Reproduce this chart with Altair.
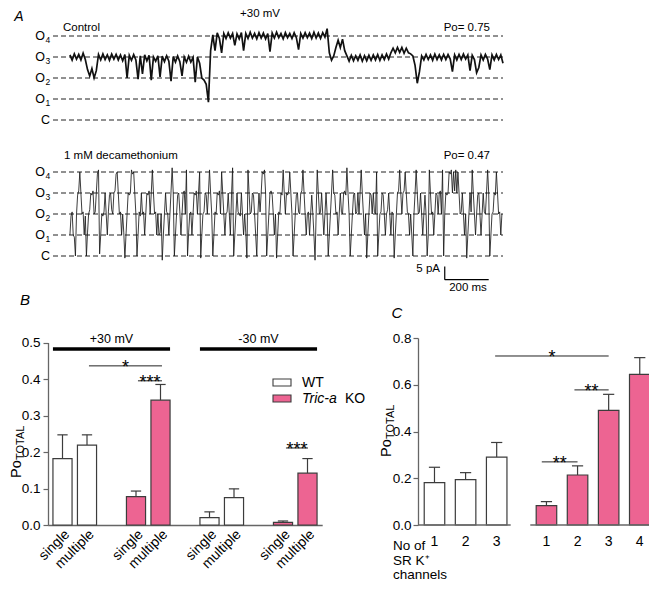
import altair as alt
import pandas as pd

# ---------------- data ----------------
# Panel A, upper record (control): conductance level (0 = C, 1..4 = O1..O4), one value per 10 ms
control_levels = [
    3.1, 2.85, 3.15, 2.9, 3.12, 2.86, 3.18, 2.88,
    2.4, 2.1, 2.45, 2.0, 2.35,
    3.12, 2.86, 3.15, 2.88, 3.1, 2.84, 3.14, 2.9,
    3.12, 2.86, 3.1, 2.82, 3.12, 2.0, 3.08, 2.84, 3.12, 2.86,
    1.95, 3.06, 2.2, 3.1, 2.82, 3.08, 1.9, 3.0, 2.8, 3.06,
    2.05, 3.04, 2.78, 3.06, 2.8, 1.85, 3.02, 2.76, 3.05, 2.78,
    2.1, 3.0, 2.75, 3.04, 2.76, 2.98, 1.8, 3.0, 2.7, 2.0,
    1.9, 1.7, 0.85, 3.3, 4.05,
    3.3, 4.15, 3.88, 3.2, 4.12, 3.88, 4.15, 3.9, 4.12, 3.55,
    4.1, 3.86, 4.16, 3.3, 4.12, 3.88, 4.18, 3.9, 4.12, 3.86,
    4.16, 3.9, 4.14, 3.86, 4.12, 3.25, 4.14, 3.9, 4.18, 3.92,
    4.12, 3.86, 4.16, 3.92, 4.12, 3.88, 4.16, 3.92, 3.35, 4.12,
    3.9, 4.16, 3.92, 4.14, 3.88, 4.18, 3.9, 4.14, 3.88, 4.16, 3.95,
    4.35, 3.2, 2.85, 3.05, 3.45, 3.8, 3.45, 3.85, 3.3, 3.05,
    2.8, 3.08, 2.82, 3.06, 2.84, 3.1, 2.8, 3.06, 2.82, 3.08, 2.84, 3.1, 2.86, 3.12, 2.84, 3.1, 2.88, 3.14, 2.9,
    3.2, 3.42, 3.2, 3.46, 3.22, 3.45, 3.18, 3.42, 3.2, 3.15,
    3.05, 2.6, 1.75, 2.3,
    3.05, 2.86, 3.12, 2.88, 3.1, 2.84, 3.14, 2.88, 3.1, 2.86, 3.12,
    2.88, 3.12, 2.9, 2.3, 3.1, 2.86, 3.12, 2.88, 3.14, 2.9,
    3.1, 2.35, 3.08, 2.88, 2.25, 2.5, 3.1, 2.86, 3.12, 2.9,
    2.4, 3.1, 2.86, 3.12, 2.88, 3.1, 2.7,
]
control_ms = 10
# Panel A, lower record (1 mM decamethonium): one value per 5 ms
deca_levels = [
    1.0, 1.9, 2.1, 1.0, 0.9, 0.0, 2.0, 2.9, 3.1, 4.0, 3.0, 2.0, 2.1, 1.0, 1.9, 0.0, 1.1, 2.0, 2.2, 3.0,
    2.9, 3.1, 2.0, 2.1, 3.0, 3.9, 4.1, 0.1, 1.0, 2.0, 1.9, 2.1, 3.0, 2.0, 1.0, 2.1, 2.9, 3.0, 2.2, 2.0,
    3.0, 3.1, 3.9, 4.0, 3.0, 2.0, 2.1, 1.0, 2.0, 1.1, -0.1, 1.0, 2.0, 3.0, 2.9, 3.0, 4.1, 3.9, 4.0, 3.0,
    2.0, 0.0, 1.0, 2.1, 1.9, 3.0, 2.0, 2.1, 1.0, 2.0, 3.0, 2.9, 3.1, 2.0, 3.0, 4.1, 3.0, 2.0, 2.1, 1.0,
    2.0, 1.0, 1.1, 2.0, -0.2, 1.0, 2.0, 3.0, 2.1, 2.0, 1.0, 2.0, 3.1, 4.2, 3.0, 0.0, 1.0, 2.0, 2.9, 3.0,
    2.1, 1.0, 2.0, 3.0, 3.1, 2.0, 4.1, 0.0, 1.1, 2.0, 2.1, 1.0, 2.0, 3.0, 2.9, 3.1, 2.0, 3.0, 4.0, -0.1,
    1.0, 2.0, 2.1, 3.0, 2.9, 2.0, 3.0, 4.1, 3.0, 2.0, 0.0, 1.0, 2.1, 2.0, 3.0, 2.9, 3.1, 2.0, 4.0, 3.0,
    2.0, 1.0, 2.0, 2.1, 3.0, 2.0, 1.0, 2.9, 4.2, 0.0, 1.0, 2.0, 3.0, 2.1, 2.0, 1.9, 3.0, 2.0, 1.0, 2.0,
    1.1, -0.1, 4.1, 3.0, 2.0, 2.1, 3.0, 2.9, 2.0, 1.0, 0.0, 2.0, 3.0, 2.1, 3.0, 4.0, 3.9, 4.1, 3.0, 0.0,
    1.0, 2.0, 3.0, 3.1, 2.9, 2.0, 1.0, 2.0, -0.1, 1.0, 2.1, 2.0, 3.0, 2.9, 4.1, 3.0, 2.0, 3.0, 2.9, 3.1,
    4.0, 3.0, 2.0, 0.0, 1.0, 2.0, 2.9, 3.0, 2.1, 2.0, 3.0, 3.1, 4.1, 3.0, 2.0, 1.0, 2.0, 2.1, 1.0, 2.0,
    2.9, 2.0, 1.0, -0.2, 2.0, 4.1, 3.0, 2.0, 2.1, 3.0, 2.0, 1.0, 2.0, 3.0, 2.0, 0.0, 1.0, 2.0, 3.0, 4.1,
    3.0, 2.9, 2.0, 2.1, 1.0, 2.0, 3.0, 2.1, 2.0, 3.0, 3.1, 2.9, 4.2, 3.0, 2.0, 0.0, 1.0, 2.0, 2.9, 3.0,
    2.0, 2.1, 3.0, 2.0, 3.0, 4.1, 3.0, 2.0, 1.0, 2.0, -0.1, 1.0, 2.0, 3.0, 2.9, 2.0, 3.0, 2.1, 2.0, 4.0,
    0.0, 1.0, 2.0, 2.1, 3.0, 2.9, 2.0, 1.0, 2.0, 2.2, 3.0, 2.0, 1.0, 2.1, 2.0, -0.1, 1.0, 2.0, 3.0, 3.1,
    4.1, 3.0, 2.0, 3.0, 3.1, 4.0, 3.0, 2.1, 2.0, 1.0, 2.0, 1.0, 0.0, 2.0, 3.0, 4.1, 3.0, 2.0, 2.1, 3.0,
    2.0, 1.0, 2.0, 2.9, 2.0, 0.0, 1.0, 4.1, 3.0, 2.0, 2.1, 1.0, 2.0, 3.0, 2.9, 2.0, 3.0, 3.1, 2.0, 4.1,
    0.0, 2.0, 3.0, 2.9, 3.0, 4.0, 3.9, 4.1, 3.0, 4.0, 3.1, 4.1, 3.0, 4.0, 3.0, 2.0, 2.1, 3.0, 2.0, 1.0,
    2.0, -0.1, 1.0, 2.0, 3.0, 2.1, 4.1, 3.0, 2.0, 1.0, 2.0, 2.9, 3.0, 2.0, 1.0, 2.0, 3.0, 2.1, 2.0, 3.0,
    4.1, 3.0, 0.0, 1.0, 2.0, 2.1, 3.0, 2.9, 4.0, 3.0, 2.0, 2.1, 1.0, 2.0,
]
deca_ms = 5
unit_pA = 8.0
level_idx = [0, 1, 2, 3, 4]
level_main = ["C", "O", "O", "O", "O"]
level_sub = ["", "1", "2", "3", "4"]
scalebar_pA = 5
scalebar_ms = 200

# Panel B
b_pos = [0, 1, 3, 4, 6, 7, 9, 10]
b_label = ["single", "multiple"] * 4
b_geno = ["WT", "WT", "KO", "KO", "WT", "WT", "KO", "KO"]
b_volt = ["+30 mV"] * 4 + ["-30 mV"] * 4
b_mean = [0.182, 0.219, 0.078, 0.342, 0.020, 0.075, 0.007, 0.142]
b_upper = [0.247, 0.247, 0.093, 0.385, 0.036, 0.099, 0.011, 0.182]
b_sig_from = [1.08, 3.08, 9.12]
b_sig_to = [4.06, 4.06, 10.02]
b_sig_y = [0.436, 0.395, 0.211]
b_sig_text = ["*", "***", "***"]

# Panel C
c_pos = [0, 1, 2, 3.6, 4.6, 5.6, 6.6]
c_label = ["1", "2", "3", "1", "2", "3", "4"]
c_geno = ["WT"] * 3 + ["KO"] * 4
c_mean = [0.181, 0.194, 0.290, 0.083, 0.214, 0.490, 0.644]
c_upper = [0.247, 0.224, 0.353, 0.100, 0.253, 0.559, 0.716]
c_sig_from = [1.95, 4.5, 3.45]
c_sig_to = [5.6, 5.6, 4.6]
c_sig_y = [0.723, 0.578, 0.27]
c_sig_text = ["*", "**", "**"]

# ---------------- layout / style ----------------
W, H = 641, 574
FONT = "Liberation Sans"
PINK = "#ED6492"
EDGE = "#3c3c3c"
AXC = "#666666"


def px(X):
    return X - 8


def py(Y):
    return Y - 8


def lin(domain, rng):
    return alt.Scale(domain=domain, range=rng, nice=False, zero=False)


def label(text, X, Y, size=13, align="left", baseline="middle", style="normal", angle=None):
    kw = dict(align=align, baseline=baseline, fontSize=size, fontStyle=style, color="black")
    if angle is not None:
        kw["angle"] = angle
    return alt.Chart(pd.DataFrame({"t": [text]})).mark_text(**kw).encode(
        text="t:N", x=alt.value(px(X)), y=alt.value(py(Y))
    )


layers = []

# ---------------- Panel A ----------------
xsA = lin([-77, 1970], [px(53), px(503)])


def ysA(c_Y, o4_Y):
    return lin([0, 4 * unit_pA], [py(c_Y), py(o4_Y)])


dfLev = pd.DataFrame({"i": level_idx, "main": level_main, "sub": level_sub})


def trace_block(levels, step_ms, c_Y, o4_Y, width, color):
    ys = ysA(c_Y, o4_Y)
    out = []
    base = alt.Chart(dfLev).transform_calculate(
        cur=f"datum.i * {unit_pA}", t0="-77", t1="1970"
    )
    out.append(base.mark_rule(strokeDash=[5, 3], color="#222", strokeWidth=1).encode(
        x=alt.X("t0:Q", scale=xsA, axis=None), x2="t1:Q",
        y=alt.Y("cur:Q", scale=ys, axis=None)))
    out.append(base.transform_filter("datum.i > 0").mark_text(
        align="right", baseline="middle", fontSize=12.5).encode(
        x=alt.value(px(45)), y=alt.Y("cur:Q", scale=ys, axis=None), text="main:N"))
    out.append(base.transform_filter("datum.i > 0").mark_text(
        align="left", baseline="middle", fontSize=8.5, dy=4).encode(
        x=alt.value(px(45.5)), y=alt.Y("cur:Q", scale=ys, axis=None), text="sub:N"))
    out.append(base.transform_filter("datum.i == 0").mark_text(
        align="right", baseline="middle", fontSize=12.5).encode(
        x=alt.value(px(50)), y=alt.Y("cur:Q", scale=ys, axis=None), text="main:N"))
    df = pd.DataFrame({"k": list(range(len(levels))), "lev": levels})
    out.append(alt.Chart(df).transform_calculate(
        t=f"datum.k * {step_ms}", cur=f"datum.lev * {unit_pA}").mark_line(
        color=color, strokeWidth=width).encode(
        x=alt.X("t:Q", scale=xsA, axis=None), y=alt.Y("cur:Q", scale=ys, axis=None)))
    return out


layers += trace_block(control_levels, control_ms, 120, 36, 1.7, "#111111")
layers += trace_block(deca_levels, deca_ms, 256, 172, 0.85, "#1a1a1a")

# scale bar (on the lower record's scale)
sb = alt.Chart(pd.DataFrame({"t0": [1705], "amp": [scalebar_pA], "dur": [scalebar_ms]})).transform_calculate(
    t1="datum.t0 + datum.dur", ylo="-9", yhi="-9 + datum.amp")
ys_low = ysA(256, 172)
layers.append(sb.mark_rule(color="black", strokeWidth=1.2).encode(
    x=alt.X("t0:Q", scale=xsA, axis=None), x2="t1:Q", y=alt.Y("ylo:Q", scale=ys_low, axis=None)))
layers.append(sb.mark_rule(color="black", strokeWidth=1.2).encode(
    x=alt.X("t0:Q", scale=xsA, axis=None), y=alt.Y("ylo:Q", scale=ys_low, axis=None), y2="yhi:Q"))

layers += [
    label("A", 19, 17, size=14, align="center", style="italic"),
    label("+30 mV", 260, 14, size=11.5, align="center"),
    label("Control", 63, 28, size=11.5),
    label("Po= 0.75", 490, 28, size=11.5, align="right"),
    label("1 mM decamethonium", 64, 156, size=11.5),
    label("Po= 0.47", 490, 156, size=11.5, align="right"),
    label("5 pA", 440, 269, size=11.5, align="right"),
    label("200 ms", 468, 288, size=11.5, align="center"),
]

# ---------------- Panel B ----------------
xsB = lin([-0.6, 10.6], [px(47.8), px(322.2)])
ysB = lin([0, 0.5], [py(525), py(342.5)])
fill_scale = alt.Scale(domain=["WT", "KO"], range=["white", PINK])

dfB = pd.DataFrame({"pos": b_pos, "lab": b_label, "geno": b_geno, "volt": b_volt,
                    "mean": b_mean, "upper": b_upper})
baseB = alt.Chart(dfB).transform_calculate(
    xl="datum.pos - 0.39", xr="datum.pos + 0.39", zero="0",
    cl="datum.pos - 0.21", cr="datum.pos + 0.21",
    lx="datum.pos + 0.2", ly="-0.02")

layers.append(baseB.mark_rule(color=EDGE, strokeWidth=1.2).encode(
    x=alt.X("pos:Q", scale=xsB, axis=None), y=alt.Y("mean:Q", scale=ysB, axis=None), y2="upper:Q"))
layers.append(baseB.mark_rule(color=EDGE, strokeWidth=1.2).encode(
    x=alt.X("cl:Q", scale=xsB, axis=None), x2="cr:Q", y=alt.Y("upper:Q", scale=ysB, axis=None)))
layers.append(baseB.mark_rect(stroke=EDGE, strokeWidth=1.2).encode(
    x=alt.X("xl:Q", scale=xsB, axis=alt.Axis(
        orient="bottom", offset=py(525) - H, ticks=False, labels=False, grid=False,
        title=None, domainColor=AXC, domainWidth=1.3)),
    x2="xr:Q",
    y=alt.Y("mean:Q", scale=ysB, axis=alt.Axis(
        orient="left", offset=-px(48), values=[0, 0.1, 0.2, 0.3, 0.4, 0.5], format=".1f",
        grid=False, title=None, tickSize=5, tickColor=AXC, tickWidth=1.2, domainColor=AXC,
        domainWidth=1.3, labelFontSize=13.5, labelColor="black", labelPadding=3)),
    y2="zero:Q",
    fill=alt.Fill("geno:N", scale=fill_scale, legend=None)))
layers.append(baseB.mark_text(angle=315, align="right", baseline="middle", fontSize=14).encode(
    x=alt.X("lx:Q", scale=xsB, axis=None), y=alt.Y("ly:Q", scale=ysB, axis=None), text="lab:N"))

grpB = alt.Chart(dfB).transform_aggregate(
    lo="min(pos)", hi="max(pos)", groupby=["volt"]).transform_calculate(
    xl="datum.lo - 0.39", xr="datum.hi + 0.39", mid="(datum.lo + datum.hi) / 2", yb="0.482")
layers.append(grpB.mark_rule(color="black", strokeWidth=3.5).encode(
    x=alt.X("xl:Q", scale=xsB, axis=None), x2="xr:Q", y=alt.Y("yb:Q", scale=ysB, axis=None)))
layers.append(grpB.mark_text(baseline="bottom", fontSize=12.5, dy=-3).encode(
    x=alt.X("mid:Q", scale=xsB, axis=None), y=alt.Y("yb:Q", scale=ysB, axis=None), text="volt:N"))

dfSB = pd.DataFrame({"x1": b_sig_from, "x2": b_sig_to, "y": b_sig_y, "s": b_sig_text})
sigB = alt.Chart(dfSB).transform_calculate(mid="(datum.x1 + datum.x2) / 2")
layers.append(sigB.mark_rule(color="#222", strokeWidth=1).encode(
    x=alt.X("x1:Q", scale=xsB, axis=None), x2="x2:Q", y=alt.Y("y:Q", scale=ysB, axis=None)))
layers.append(sigB.mark_text(baseline="alphabetic", fontSize=18, dy=7).encode(
    x=alt.X("mid:Q", scale=xsB, axis=None), y=alt.Y("y:Q", scale=ysB, axis=None), text="s:N"))

# legend
layers += [
    alt.Chart(pd.DataFrame({"g": ["WT"]})).mark_rect(stroke=EDGE, strokeWidth=1.1).encode(
        x=alt.value(px(273)), x2=alt.value(px(291)), y=alt.value(py(379)), y2=alt.value(py(386)),
        fill=alt.Fill("g:N", scale=fill_scale, legend=None)),
    alt.Chart(pd.DataFrame({"g": ["KO"]})).mark_rect(stroke=EDGE, strokeWidth=1.1).encode(
        x=alt.value(px(273)), x2=alt.value(px(291)), y=alt.value(py(395)), y2=alt.value(py(402)),
        fill=alt.Fill("g:N", scale=fill_scale, legend=None)),
    label("WT", 302, 383, size=14),
    label("Tric-a", 302, 399, size=14, style="italic"),
    label("KO", 345, 399, size=14),
]

layers += [
    label("B", 25, 300, size=15, align="center", style="italic"),
    label("Po", 20.5, 478, size=14.5, angle=270, baseline="alphabetic"),
    label("TOTAL", 23.5, 460, size=11, angle=270, baseline="alphabetic"),
]

# ---------------- Panel C ----------------
xsC = lin([-0.53, 7.0], [px(418), px(652.2)])
ysC = lin([0, 0.8], [py(525), py(338)])
dfC = pd.DataFrame({"pos": c_pos, "lab": c_label, "geno": c_geno, "mean": c_mean, "upper": c_upper})
baseC = alt.Chart(dfC).transform_calculate(
    xl="datum.pos - 0.33", xr="datum.pos + 0.33", zero="0",
    cl="datum.pos - 0.18", cr="datum.pos + 0.18")

layers.append(baseC.mark_rule(color=EDGE, strokeWidth=1.2).encode(
    x=alt.X("pos:Q", scale=xsC, axis=None), y=alt.Y("mean:Q", scale=ysC, axis=None), y2="upper:Q"))
layers.append(baseC.mark_rule(color=EDGE, strokeWidth=1.2).encode(
    x=alt.X("cl:Q", scale=xsC, axis=None), x2="cr:Q", y=alt.Y("upper:Q", scale=ysC, axis=None)))
layers.append(baseC.mark_rect(stroke=EDGE, strokeWidth=1.2).encode(
    x=alt.X("xl:Q", scale=xsC, axis=None),
    x2="xr:Q",
    y=alt.Y("mean:Q", scale=ysC, axis=alt.Axis(
        orient="left", offset=-px(418), values=[0, 0.2, 0.4, 0.6, 0.8], format=".1f",
        grid=False, title=None, tickSize=5, tickColor=AXC, tickWidth=1.2, domainColor=AXC,
        domainWidth=1.3, labelFontSize=13.5, labelColor="black", labelPadding=2)),
    y2="zero:Q",
    fill=alt.Fill("geno:N", scale=fill_scale, legend=None)))
layers.append(baseC.mark_text(baseline="middle", fontSize=14, dy=17).encode(
    x=alt.X("pos:Q", scale=xsC, axis=None), y=alt.Y("zero:Q", scale=ysC, axis=None), text="lab:N"))

grpC = alt.Chart(dfC).transform_aggregate(
    lo="min(pos)", hi="max(pos)", groupby=["geno"]).transform_calculate(
    xl="datum.lo - 0.52", xr="datum.hi + 0.45", zero="0")
layers.append(grpC.mark_rule(color=AXC, strokeWidth=1.3).encode(
    x=alt.X("xl:Q", scale=xsC, axis=None), x2="xr:Q", y=alt.Y("zero:Q", scale=ysC, axis=None)))

dfSC = pd.DataFrame({"x1": c_sig_from, "x2": c_sig_to, "y": c_sig_y, "s": c_sig_text})
sigC = alt.Chart(dfSC).transform_calculate(mid="(datum.x1 + datum.x2) / 2")
layers.append(sigC.mark_rule(color="#222", strokeWidth=1).encode(
    x=alt.X("x1:Q", scale=xsC, axis=None), x2="x2:Q", y=alt.Y("y:Q", scale=ysC, axis=None)))
layers.append(sigC.mark_text(baseline="alphabetic", fontSize=18, dy=7).encode(
    x=alt.X("mid:Q", scale=xsC, axis=None), y=alt.Y("y:Q", scale=ysC, axis=None), text="s:N"))

layers += [
    label("C", 397, 313, size=15, align="center", style="italic"),
    label("Po", 391, 457, size=14.5, angle=270, baseline="alphabetic"),
    label("TOTAL", 394, 439, size=11, angle=270, baseline="alphabetic"),
    label("No of", 393, 546, size=13.5),
    label("SR K\u207a", 393, 561, size=13.5),
    label("channels", 393, 575, size=13.5),
]

chart = alt.layer(*layers).resolve_scale(x="independent", y="independent").properties(
    width=W, height=H, autosize=alt.AutoSizeParams(type="none"), padding=0
).configure(font=FONT).configure_view(stroke=None)

chart.save("out.html", embed_options={"renderer": "svg", "actions": False})
